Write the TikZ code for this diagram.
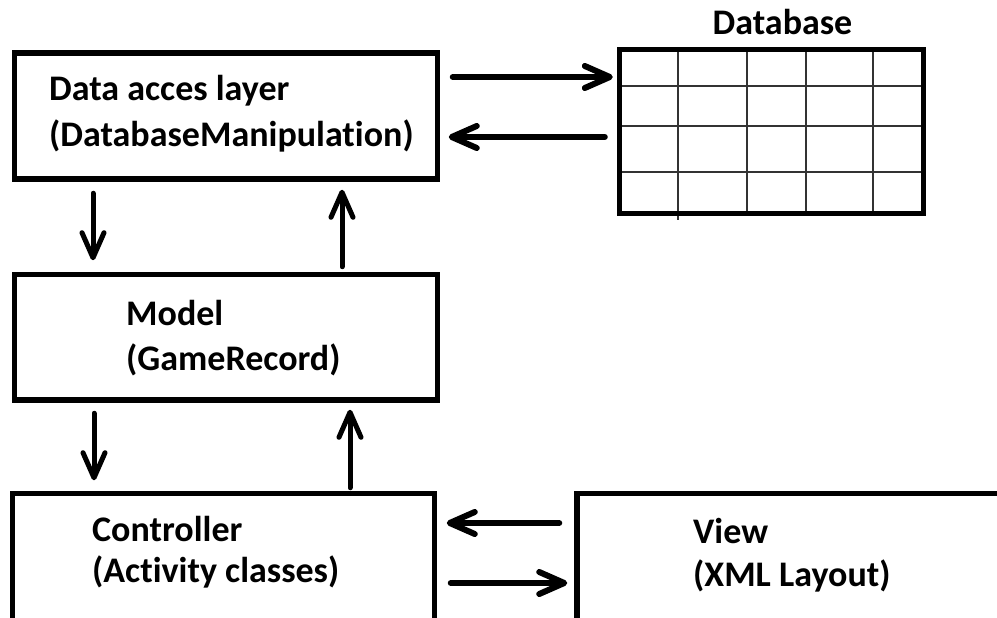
\documentclass[tikz,border=0pt]{standalone}
\usepackage{fontspec}
\setmainfont{Carlito}[Ligatures=NoCommon]
\usetikzlibrary{arrows.meta}
\begin{document}
\begin{tikzpicture}[x=1bp,y=-1bp,
  layerbox/.style={draw=black,line width=5.5bp,fill=white,inner sep=0pt,rectangle},
  gridline/.style={draw=black!80,line width=1.5bp},
  label/.style={inner sep=0pt,anchor=base west,font=\fontsize{36bp}{42bp}\selectfont\bfseries},
  flowh/.style={line width=6bp,line cap=round,-{Straight Barb[length=25bp,width=22bp,round]}},
  flowv/.style={line width=5bp,line cap=round,-{Straight Barb[length=25bp,width=22bp,round]}}]
\useasboundingbox (0,0) rectangle (997,618);
\clip (0,0) rectangle (997,618);

% layer boxes
\node[layerbox,minimum width=423bp,minimum height=126bp] (dal) at (226,116) {};
\node[layerbox,minimum width=423bp,minimum height=125.5bp] (model) at (226,337.25) {};
\node[layerbox,minimum width=422bp,minimum height=160bp] (ctrl) at (223.5,573.5) {};
\node[layerbox,minimum width=443bp,minimum height=160bp] (view) at (798.5,573.5) {};

% database table
\node[inner sep=0pt,minimum width=303.5bp,minimum height=163.5bp] (db) at (771.5,131.5) {};
\foreach \gx in {747,806,873}
  \draw[gridline] (\gx,0 |- db.north) -- (\gx,0 |- db.south);
\draw[gridline] (678,0 |- db.north) -- (678,220);
\foreach \gy in {86,126,172}
  \draw[gridline] (db.west |- 0,\gy) -- (db.east |- 0,\gy);
\draw[line width=5.5bp] (db.north west) rectangle (db.south east);
\node[label,anchor=base] (dbl) at (782.5,35) {Database};

% texts
\node[label] (dal1) at (49,101) {Data acces layer};
\node[label] (dal2) at (49,147) {(DatabaseManipulation)};
\node[label] (model1) at (126,325) {Model};
\node[label] (model2) at (126,370) {(GameRecord)};
\node[label] (ctrl1) at (92,541) {Controller};
\node[label] (ctrl2) at (92,582) {(Activity classes)};
\node[label] (view1) at (693,543) {View};
\node[label] (view2) at (693,586) {(XML Layout)};

% data access layer <-> database
\draw[flowh,shorten <=12.5bp,shorten >=6.75bp] (dal.east |- 0,77) -- (db.west |- 0,77);
\draw[flowh,shorten <=14.75bp,shorten >=8.5bp] (db.west |- 0,137) -- (dal.east |- 0,137);

% data access layer <-> model
\draw[flowv,shorten <=11.5bp,shorten >=11.5bp] (dal.south -| 93,0) -- (model.north -| 93,0);
\draw[flowv,shorten <=5bp,shorten >=8bp] (model.north -| 342,0) -- (dal.south -| 342,0);

% model <-> controller
\draw[flowv,shorten <=10.5bp,shorten >=10.5bp] (model.south -| 94,0) -- (ctrl.north -| 94,0);
\draw[flowv,shorten <=3bp,shorten >=7bp] (ctrl.north -| 350,0) -- (model.south -| 350,0);

% controller <-> view
\draw[flowh,shorten <=15bp,shorten >=9.5bp] (view.west |- 0,523) -- (ctrl.east |- 0,523);
\draw[flowh,shorten <=13.5bp,shorten >=7bp] (ctrl.east |- 0,583) -- (view.west |- 0,583);
\end{tikzpicture}
\end{document}
